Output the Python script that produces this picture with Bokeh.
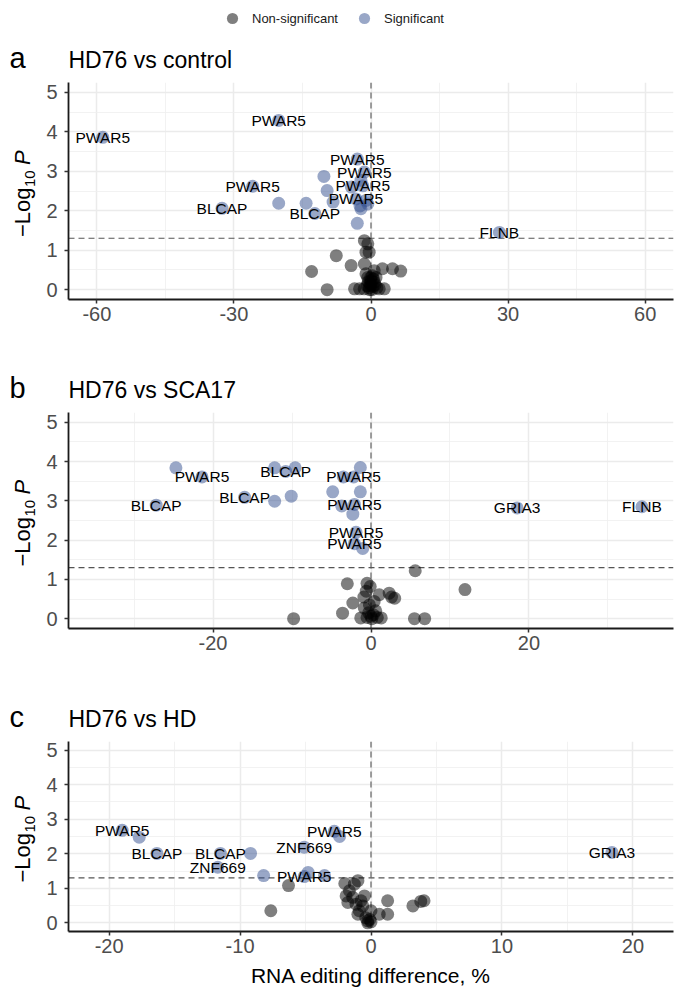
import math
from bokeh.plotting import figure
from bokeh.models import (ColumnDataSource, Range1d, FixedTicker, Span,
                          Legend, LegendItem)
from bokeh.layouts import column, row
from bokeh.embed import file_html
from bokeh.resources import INLINE
from bokeh.core.properties import value

# ---------------- data ----------------
P_THRESHOLD = 0.05

a_sig_x = [-58.7, -20.2, -25.9, -32.6, -12.3, -20.2, -14.2, -10.3, -9.6, -8.3,
           -3.0, -3.0, -1.45, -1.8, -3.3, -4.3, -2.2, -2.2, -0.7, -1.1,
           -2.4, 28.1]
a_sig_y = [3.86, 4.29, 2.62, 2.06, 1.93, 2.19, 2.19, 2.87, 2.51, 2.22,
           1.68, 3.31, 2.98, 2.63, 2.30, 2.60, 2.77, 2.05, 2.17, 2.26,
           2.12, 1.45]
a_sig_gene = ["PWAR5", "PWAR5", "PWAR5", "BLCAP", "BLCAP", "", "", "", "", "",
              "", "PWAR5", "PWAR5", "PWAR5", "PWAR5", "", "", "", "", "",
              "", "FLNB"]
a_ns_x = [-1.45, -0.7, -1.1, -0.4, -7.6, -4.35, -1.45, 2.5, 4.7, 6.5,
          0.7, -9.6, -3.6, -2.5, 0.0, 0.0, -0.7, 1.1, 1.8, 2.9,
          -1.1, 0.7, -0.4, 0.2, -13.0, -0.2, 0.4, -0.6, 0.9, -1.5,
          0.3, -0.9, 1.3, -0.3, 0.5, -0.1]
a_ns_y = [1.24, 1.16, 0.95, 0.95, 0.86, 0.61, 0.65, 0.53, 0.53, 0.47,
          0.48, 0.0, 0.02, 0.02, 0.23, 0.10, 0.31, 0.31, 0.02, 0.02,
          0.40, 0.19, 0.05, 0.0, 0.46, 0.15, 0.08, 0.20, 0.12, 0.02,
          0.35, 0.10, 0.05, 0.0, 0.27, 0.30]

b_sig_x = [-24.7, -21.4, -27.2, -12.2, -9.6, -10.8, -12.2, -10.1, -16.0, -4.85,
           -1.35, -1.35, -3.5, -2.2, -3.7, -2.1, -2.3, -1.9, -2.1, -1.05,
           18.5, 34.3]
b_sig_y = [3.84, 3.61, 2.89, 3.84, 3.84, 3.75, 2.99, 3.12, 3.09, 3.23,
           3.85, 3.23, 3.61, 3.61, 2.87, 2.91, 2.66, 2.20, 1.91, 1.79,
           2.82, 2.85]
b_sig_gene = ["", "PWAR5", "BLCAP", "", "", "BLCAP", "", "", "BLCAP", "",
              "", "", "", "PWAR5", "", "PWAR5", "", "PWAR5", "PWAR5", "",
              "GRIA3", "FLNB"]
b_ns_x = [5.6, -3.0, -0.5, -0.1, -2.3, -0.9, 1.05, 2.3, 3.0, -3.6,
          -0.85, 0.0, 1.3, -1.3, 5.5, 6.8, 0.4, 11.9, -9.8, -0.3,
          0.3, -0.5, 0.6, -0.2, 0.8, 2.6, -0.6, 0.1]
b_ns_y = [1.22, 0.89, 0.90, 0.82, 0.40, 0.55, 0.61, 0.65, 0.52, 0.14,
          0.27, 0.06, 0.02, 0.02, 0.0, 0.0, 0.44, 0.74, 0.0, 0.15,
          0.10, 0.03, 0.20, 0.35, 0.03, 0.55, 0.70, 0.0]

c_sig_x = [-19.0, -17.7, -16.35, -11.5, -9.2, -11.7, -8.2, -5.1, -4.8, -5.1,
           -3.55, -2.8, -2.4, 18.4]
c_sig_y = [2.68, 2.48, 2.01, 2.01, 2.01, 1.61, 1.37, 2.19, 1.46, 1.34,
           1.37, 2.65, 2.50, 2.04]
c_sig_gene = ["PWAR5", "", "BLCAP", "BLCAP", "", "ZNF669", "", "ZNF669", "", "PWAR5",
              "", "PWAR5", "", "GRIA3"]
c_ns_x = [-6.3, -7.65, -1.0, -1.27, -2.0, -1.9, -1.4, -0.76, -1.77, -0.63,
          -0.9, -1.0, 0.0, -0.25, -0.25, 0.0, 0.63, 1.27, 1.27, 3.2,
          4.05, 3.8, -0.5, -1.14, -1.65, -0.4, -0.1]
c_ns_y = [1.08, 0.35, 1.22, 1.12, 1.14, 0.78, 0.74, 0.64, 0.59, 0.49,
          0.35, 0.25, 0.35, 0.06, 0.0, 0.03, 0.25, 0.64, 0.25, 0.49,
          0.64, 0.62, 0.78, 0.54, 0.93, 0.15, 0.10]

panel_letters = ["a", "b", "c"]
panel_titles = ["HD76 vs control", "HD76 vs SCA17", "HD76 vs HD"]
x_ticks = [[-60, -30, 0, 30, 60], [-20, 0, 20], [-20, -10, 0, 10, 20]]
y_ticks = [0, 1, 2, 3, 4, 5]
legend_labels = ["Non-significant", "Significant"]
x_title = "RNA editing difference, %"
y_title_parts = ["\u2212Log", "10", "P"]

# ---------------- style / layout ----------------
FONT = "Liberation Sans"
NS_COLOR = "#000000"
SIG_COLOR = "#34508F"
ALPHA = 0.5
PT_SIZE = 13
PAGE_W = 683
SIDE_W = 40
FRAME_L = 68
FRAME_W = 605
Y_LO, Y_HI = -0.25, 5.25
NAN = float("nan")

layout_cfg = [
    dict(xr=66.2, minor=[-45, -15, 15, 45], fh=217, bt=6, bb=41, hh=76),
    dict(xr=38.3, minor=[-30, -10, 10, 30], fh=216, bt=6, bb=42, hh=66),
    dict(xr=23.1, minor=[-15, -5, 5, 15], fh=190, bt=6, bb=58, hh=65),
]
data = [
    (a_sig_x, a_sig_y, a_sig_gene, a_ns_x, a_ns_y),
    (b_sig_x, b_sig_y, b_sig_gene, b_ns_x, b_ns_y),
    (c_sig_x, c_sig_y, c_sig_gene, c_ns_x, c_ns_y),
]


def blank(w, h):
    f = figure(frame_width=w, frame_height=h, min_border=0,
               x_range=Range1d(0, w), y_range=Range1d(0, h),
               output_backend="svg", toolbar_location=None,
               background_fill_color="white", border_fill_color="white")
    f.axis.visible = False
    f.grid.visible = False
    f.outline_line_color = None
    return f


blocks = []
for i in range(3):
    cfg = layout_cfg[i]
    sx, sy, sg, nx, ny = data[i]
    xr, fh = cfg["xr"], cfg["fh"]
    H = cfg["bt"] + fh + cfg["bb"]

    # ---- header: panel letter + title (+ legend on top panel)
    hd = blank(PAGE_W, cfg["hh"])
    hd.text(x=[9], y=[8 + 0.36 * 29], text=[panel_letters[i]], text_font=value(FONT),
            text_font_size="29px", text_color="#000000",
            text_align="left", text_baseline="middle")
    hd.text(x=[FRAME_L], y=[8 + 0.36 * 23], text=[panel_titles[i]],
            text_font=value(FONT), text_font_size="23px", text_color="#000000",
            text_align="left", text_baseline="middle")
    if i == 0:
        d_ns = hd.scatter(x=[NAN], y=[NAN], size=PT_SIZE, fill_color=NS_COLOR,
                          fill_alpha=ALPHA, line_color=None)
        d_sig = hd.scatter(x=[NAN], y=[NAN], size=PT_SIZE, fill_color=SIG_COLOR,
                           fill_alpha=ALPHA, line_color=None)
        legend = Legend(items=[LegendItem(label=legend_labels[0], renderers=[d_ns]),
                               LegendItem(label=legend_labels[1], renderers=[d_sig])],
                        location=(218, cfg["hh"] - 18 - 14), orientation="horizontal",
                        glyph_width=28, glyph_height=28, label_standoff=6,
                        spacing=12, padding=0, margin=0,
                        label_text_font=FONT, label_text_font_size="13px",
                        label_text_color="#1a1a1a",
                        border_line_color=None, background_fill_alpha=0)
        hd.add_layout(legend)

    # ---- side strip: y-axis title  −Log10 P (rotated)
    sd = blank(SIDE_W, H)
    yc = H - (cfg["bt"] + fh / 2 - 3.5)
    y0 = yc - 43.5
    sd.text(x=[22], y=[y0], text=[y_title_parts[0]], angle=math.pi / 2,
            text_font=value(FONT), text_font_size="22px", text_color="#000000",
            text_align="left", text_baseline="middle")
    sd.text(x=[29], y=[y0 + 50], text=[y_title_parts[1]], angle=math.pi / 2,
            text_font=value(FONT), text_font_size="15px", text_color="#000000",
            text_align="left", text_baseline="middle")
    sd.text(x=[22], y=[y0 + 72], text=[y_title_parts[2]], angle=math.pi / 2,
            text_font=value(FONT), text_font_size="22px", text_font_style="italic",
            text_color="#000000", text_align="left", text_baseline="middle")

    # ---- main panel
    p = figure(frame_width=FRAME_W, frame_height=fh,
               min_border_left=FRAME_L - SIDE_W,
               min_border_right=PAGE_W - FRAME_L - FRAME_W,
               min_border_top=cfg["bt"], min_border_bottom=cfg["bb"],
               x_range=Range1d(-xr, xr), y_range=Range1d(Y_LO, Y_HI),
               output_backend="svg", toolbar_location=None,
               background_fill_color="white", border_fill_color="white")
    p.outline_line_color = None

    xt = x_ticks[i]
    p.xaxis.ticker = FixedTicker(ticks=xt, minor_ticks=cfg["minor"])
    p.yaxis.ticker = FixedTicker(ticks=y_ticks,
                                 minor_ticks=[k + 0.5 for k in y_ticks[:-1]])
    p.xaxis.major_label_overrides = {t: str(t) for t in xt}
    p.yaxis.major_label_overrides = {t: str(t) for t in y_ticks}
    for ax in (p.xaxis, p.yaxis):
        ax.axis_line_color = "#1a1a1a"
        ax.axis_line_width = 1.8
        ax.major_tick_line_color = "#333333"
        ax.major_tick_line_width = 1.5
        ax.major_tick_out = 4
        ax.major_tick_in = 0
        ax.minor_tick_line_color = None
        ax.major_label_text_font = FONT
        ax.major_label_text_font_size = "20px"
        ax.major_label_text_color = "#4D4D4D"
    p.xaxis.major_label_standoff = 3
    p.yaxis.major_label_standoff = 7

    for g in (p.xgrid, p.ygrid):
        g.grid_line_color = "#EBEBEB"
        g.grid_line_width = 1.5
        g.minor_grid_line_color = "#EFEFEF"
        g.minor_grid_line_width = 0.8

    if i == 2:
        p.xaxis.axis_label = x_title
        p.xaxis.axis_label_text_font = FONT
        p.xaxis.axis_label_text_font_size = "21px"
        p.xaxis.axis_label_text_font_style = "normal"
        p.xaxis.axis_label_text_color = "#000000"
        p.xaxis.axis_label_standoff = 8

    p.add_layout(Span(location=0, dimension="height", line_color="#555555",
                      line_width=1.1, line_dash="6 4", level="underlay"))
    p.add_layout(Span(location=-math.log10(P_THRESHOLD), dimension="width",
                      line_color="#555555", line_width=1.1, line_dash="6 4",
                      level="underlay"))

    p.scatter("x", "y", source=ColumnDataSource(dict(x=nx, y=ny)), size=PT_SIZE,
              fill_color=NS_COLOR, fill_alpha=ALPHA, line_color=None)
    p.scatter("x", "y", source=ColumnDataSource(dict(x=sx, y=sy)), size=PT_SIZE,
              fill_color=SIG_COLOR, fill_alpha=ALPHA, line_color=None)

    lx = [x for x, g in zip(sx, sg) if g]
    ly = [y for y, g in zip(sy, sg) if g]
    lt = [g for g in sg if g]
    p.text(x="x", y="y", text="t", source=ColumnDataSource(dict(x=lx, y=ly, t=lt)),
           text_font=value(FONT), text_font_size="15.5px", text_color="#000000",
           text_align="center", text_baseline="middle")

    blocks.append(hd)
    blocks.append(row(sd, p, spacing=0))

page = column(*blocks, spacing=0)
open("out.html", "w").write(file_html(page, INLINE))
